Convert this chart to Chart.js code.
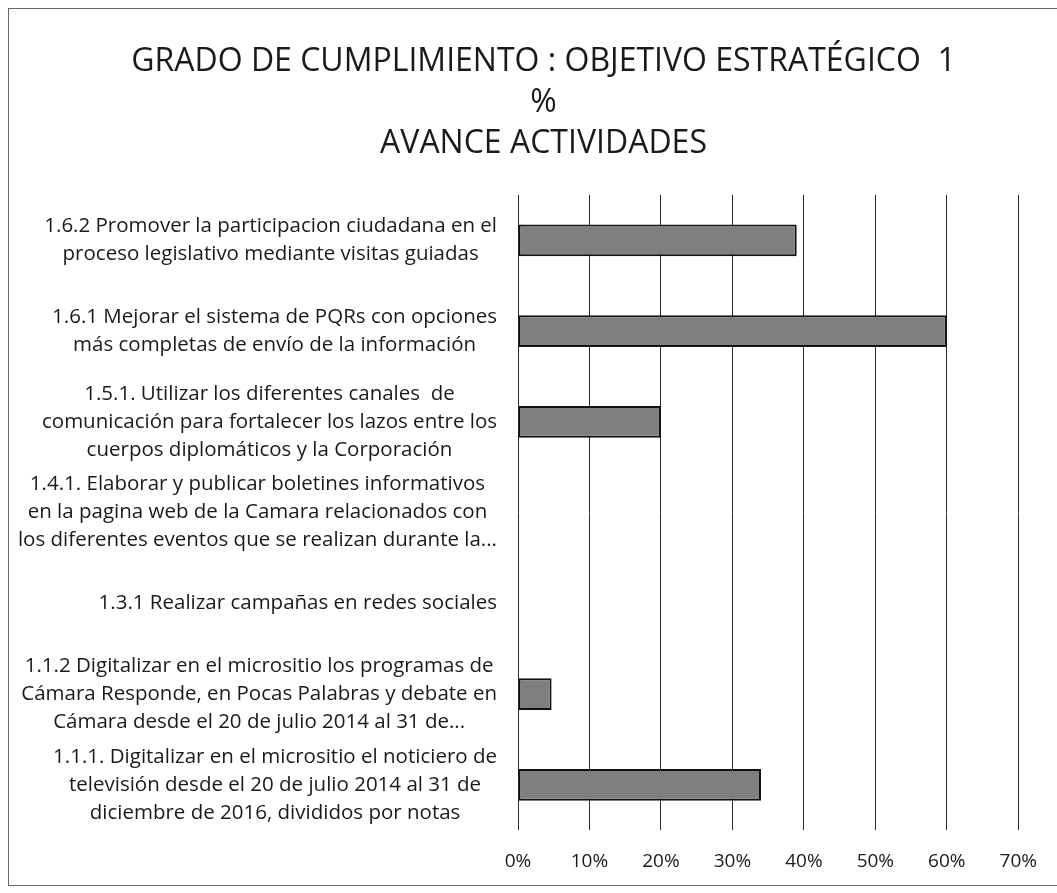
<!DOCTYPE html>
<html>
<head>
<meta charset="utf-8">
<script src="https://cdn.jsdelivr.net/npm/chart.js@4"></script>
<style>
  body { margin: 0; background: #fff; }
  #wrap { width: 1057px; height: 893px; }
</style>
</head>
<body>
<div id="wrap"><canvas id="chart" width="1057" height="893"></canvas></div>
<script>
// category labels, already split in the lines shown on the chart
const categories = [
  ["1.6.2 Promover la participacion ciudadana en el", "proceso legislativo mediante visitas guiadas"],
  ["1.6.1 Mejorar el sistema de PQRs con opciones", "más completas de envío de la información"],
  ["1.5.1. Utilizar los diferentes canales  de", "comunicación para fortalecer los lazos entre los", "cuerpos diplomáticos y la Corporación"],
  ["1.4.1. Elaborar y publicar boletines informativos", "en la pagina web de la Camara relacionados con", "los diferentes eventos que se realizan durante la..."],
  ["1.3.1 Realizar campañas en redes sociales"],
  ["1.1.2 Digitalizar en el micrositio los programas de", "Cámara Responde, en Pocas Palabras y debate en", "Cámara desde el 20 de julio 2014 al 31 de..."],
  ["1.1.1. Digitalizar en el micrositio el noticiero de", "televisión desde el 20 de julio 2014 al 31 de", "diciembre de 2016, divididos por notas"]
];
const avance = [39, 60, 20, 0, 0, 4.7, 34]; // % avance actividades
const titleLines = ["GRADO DE CUMPLIMIENTO : OBJETIVO ESTRATÉGICO  1", "%", "AVANCE ACTIVIDADES"];
const axisMax = 70;

const textColor = "#1a1a1a";
const labelFont = "20.5px 'Open Sans'";

// draws the wrapped category labels: block right aligned, lines centered
const categoryLabels = {
  id: "categoryLabels",
  afterDraw(chart) {
    const ctx = chart.ctx;
    const yScale = chart.scales.y;
    const right = chart.chartArea.left - 21;
    ctx.save();
    ctx.font = labelFont;
    ctx.fillStyle = textColor;
    ctx.textAlign = "center";
    ctx.textBaseline = "middle";
    categories.forEach((lines, i) => {
      const y = yScale.getPixelForValue(i);
      const w = Math.max(...lines.map((l) => ctx.measureText(l).width));
      const cx = right - w / 2;
      lines.forEach((line, j) => {
        ctx.fillText(line, cx, y + (j - (lines.length - 1) / 2) * 28);
      });
    });
    ctx.restore();
  }
};

// thin frame of the scanned sheet
const frame = {
  id: "frame",
  beforeDraw(chart) {
    const ctx = chart.ctx;
    ctx.save();
    ctx.strokeStyle = "#666";
    ctx.lineWidth = 1;
    ctx.strokeRect(8.5, 8.5, 1060, 877);
    ctx.restore();
  }
};

const ctx = document.getElementById("chart").getContext("2d");
new Chart(ctx, {
  type: "bar",
  data: {
    labels: categories.map((l) => l.join(" ")),
    datasets: [
      {
        label: "Avance",
        data: avance,
        backgroundColor: "#7f7f7f",
        borderColor: "#111",
        borderWidth: 2,
        borderSkipped: false,
        barPercentage: 0.35,
        categoryPercentage: 1
      }
    ]
  },
  options: {
    indexAxis: "y",
    responsive: false,
    animation: false,
    layout: { padding: { top: 42, bottom: 0, left: 68, right: 38 } },
    plugins: {
      legend: { display: false },
      tooltip: { enabled: false },
      title: {
        display: true,
        text: titleLines,
        color: textColor,
        font: { family: "'Open Sans'", size: 32, weight: "normal", lineHeight: 1.27 },
        padding: { top: 0, bottom: 31 }
      }
    },
    scales: {
      x: {
        min: 0,
        max: axisMax,
        ticks: {
          stepSize: 10,
          padding: 20,
          color: textColor,
          font: { family: "'Open Sans'", size: 19 },
          callback: (v) => v + "%"
        },
        grid: { color: "#2a2a2a", lineWidth: 1, drawTicks: false },
        border: { display: false }
      },
      y: {
        ticks: { display: false },
        grid: { display: false },
        border: { display: false },
        afterFit: (scale) => { scale.width = 450; }
      }
    }
  },
  plugins: [categoryLabels, frame]
});
</script>
</body>
</html>
